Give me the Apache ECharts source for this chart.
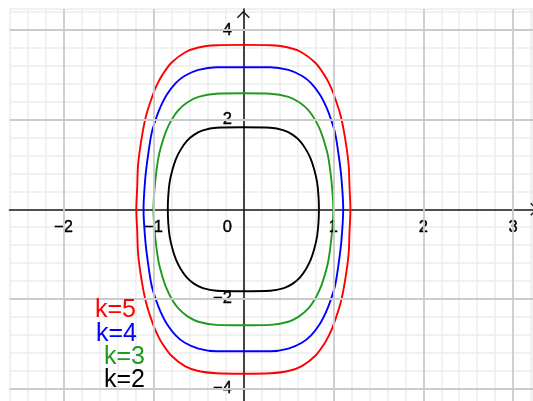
<!DOCTYPE html>
<html>
<head>
<meta charset="utf-8">
<script src="https://cdn.jsdelivr.net/npm/echarts@6/dist/echarts.min.js"></script>
<style>
  html, body { margin: 0; padding: 0; background: #ffffff; }
  #chart { width: 533px; height: 401px; }
</style>
</head>
<body>
<div id="chart"></div>
<script>
// Level curves, one closed loop per k, as [x, y] points traced around the loop.
const curveK5 = [
  [0, 3.67], [0.3, 3.66], [0.5, 3.61], [0.65, 3.50], [0.8, 3.27], [0.9, 3.00], [0.95, 2.82], [1.0, 2.59],
  [1.08, 2.10], [1.13, 1.60], [1.17, 1.00], [1.18, 0.50], [1.19, 0],
  [1.18, -0.50], [1.17, -1.00], [1.13, -1.60], [1.08, -2.10], [1.0, -2.59], [0.95, -2.82], [0.9, -3.00],
  [0.8, -3.27], [0.65, -3.50], [0.5, -3.61], [0.3, -3.66], [0, -3.67],
  [-0.3, -3.66], [-0.5, -3.61], [-0.65, -3.50], [-0.8, -3.27], [-0.9, -3.00], [-0.95, -2.82], [-1.0, -2.59],
  [-1.08, -2.10], [-1.13, -1.60], [-1.17, -1.00], [-1.18, -0.50], [-1.19, 0],
  [-1.18, 0.50], [-1.17, 1.00], [-1.13, 1.60], [-1.08, 2.10], [-1.0, 2.59], [-0.95, 2.82], [-0.9, 3.00],
  [-0.8, 3.27], [-0.65, 3.50], [-0.5, 3.61], [-0.3, 3.66], [0, 3.67]
];
const curveK4 = [
  [0, 3.17], [0.3, 3.17], [0.5, 3.11], [0.65, 2.98], [0.75, 2.82], [0.85, 2.56], [0.92, 2.29], [0.97, 2.03],
  [1.02, 1.70], [1.06, 1.20], [1.09, 0.70], [1.11, 0],
  [1.09, -0.70], [1.06, -1.20], [1.02, -1.70], [0.97, -2.03], [0.92, -2.29], [0.85, -2.56], [0.75, -2.82],
  [0.65, -2.98], [0.5, -3.11], [0.3, -3.17], [0, -3.17],
  [-0.3, -3.17], [-0.5, -3.11], [-0.65, -2.98], [-0.75, -2.82], [-0.85, -2.56], [-0.92, -2.29], [-0.97, -2.03],
  [-1.02, -1.70], [-1.06, -1.20], [-1.09, -0.70], [-1.11, 0],
  [-1.09, 0.70], [-1.06, 1.20], [-1.02, 1.70], [-0.97, 2.03], [-0.92, 2.29], [-0.85, 2.56], [-0.75, 2.82],
  [-0.65, 2.98], [-0.5, 3.11], [-0.3, 3.17], [0, 3.17]
];
const curveK3 = [
  [0, 2.59], [0.3, 2.58], [0.5, 2.51], [0.62, 2.39], [0.72, 2.22], [0.80, 1.99], [0.86, 1.74], [0.90, 1.50],
  [0.94, 1.20], [0.97, 0.80], [0.99, 0.40], [1.0, 0],
  [0.99, -0.40], [0.97, -0.80], [0.94, -1.20], [0.90, -1.50], [0.86, -1.74], [0.80, -1.99], [0.72, -2.22],
  [0.62, -2.39], [0.5, -2.51], [0.3, -2.58], [0, -2.59],
  [-0.3, -2.58], [-0.5, -2.51], [-0.62, -2.39], [-0.72, -2.22], [-0.80, -1.99], [-0.86, -1.74], [-0.90, -1.50],
  [-0.94, -1.20], [-0.97, -0.80], [-0.99, -0.40], [-1.0, 0],
  [-0.99, 0.40], [-0.97, 0.80], [-0.94, 1.20], [-0.90, 1.50], [-0.86, 1.74], [-0.80, 1.99], [-0.72, 2.22],
  [-0.62, 2.39], [-0.5, 2.51], [-0.3, 2.58], [0, 2.59]
];
const curveK2 = [
  [0, 1.83], [0.3, 1.82], [0.45, 1.76], [0.55, 1.66], [0.63, 1.52], [0.70, 1.32], [0.75, 1.12], [0.79, 0.87],
  [0.82, 0.60], [0.835, 0.30], [0.84, 0],
  [0.835, -0.30], [0.82, -0.60], [0.79, -0.87], [0.75, -1.12], [0.70, -1.32], [0.63, -1.52], [0.55, -1.66],
  [0.45, -1.76], [0.3, -1.82], [0, -1.83],
  [-0.3, -1.82], [-0.45, -1.76], [-0.55, -1.66], [-0.63, -1.52], [-0.70, -1.32], [-0.75, -1.12], [-0.79, -0.87],
  [-0.82, -0.60], [-0.835, -0.30], [-0.84, 0],
  [-0.835, 0.30], [-0.82, 0.60], [-0.79, 0.87], [-0.75, 1.12], [-0.70, 1.32], [-0.63, 1.52], [-0.55, 1.66],
  [-0.45, 1.76], [-0.3, 1.82], [0, 1.83]
];

const seriesNames = ['k=5', 'k=4', 'k=3', 'k=2'];
const seriesColors = ['#ff0000', '#0000ff', '#1e9b1e', '#000000'];
const seriesData = [curveK5, curveK4, curveK3, curveK2];

// Axis tick labels, placed beside the axes that cross at the origin
const xTickValues = [-2, -1, 0, 1, 2, 3];
const xTickTexts = ['\u22122', '\u22121', '0', '1', '2', '3'];
const yTickValues = [-4, -2, 2, 4];
const yTickTexts = ['\u22124', '\u22122', '2', '4'];

// Heavier grid lines at whole units on x and every 2 units on y
const majorX = [-2, -1, 1, 2, 3];
const majorY = [-4, -2, 2, 4];

const FONT = '"Liberation Sans", Arial, sans-serif';
const TICK_FONT_SIZE = 16.5;
const arrowPath = 'path://M0,10 L10,0 L20,10 L18.4,11.6 L10,3.2 L1.6,11.6 Z';

const chart = echarts.init(document.getElementById('chart'), null, { renderer: 'canvas' });

const series = [{
  type: 'line',
  data: [],
  silent: true,
  z: 1,
  markLine: {
    silent: true,
    symbol: ['none', 'none'],
    label: { show: false },
    animation: false,
    lineStyle: { color: '#cbcbcb', width: 1.8, type: 'solid' },
    data: majorX.map(v => ({ xAxis: v })).concat(majorY.map(v => ({ yAxis: v })))
  }
}];

// x tick labels below the x axis; "0" sits left of the y axis
series.push({
  type: 'scatter',
  silent: true,
  symbol: 'circle',
  symbolSize: 1,
  itemStyle: { opacity: 0 },
  z: 4,
  data: xTickValues.map((v, i) => [v, 0, i]),
  label: {
    show: true,
    position: 'bottom',
    distance: 9,
    fontSize: TICK_FONT_SIZE,
    fontFamily: FONT,
    color: '#000000',
    opacity: 1,
    textBorderColor: '#000000',
    textBorderWidth: 0.4,
    formatter: p => (xTickValues[p.data[2]] === 0 ? '{z|' + xTickTexts[p.data[2]] + '}' : xTickTexts[p.data[2]]),
    rich: {
      z: {
        fontSize: TICK_FONT_SIZE, fontFamily: FONT, color: '#000000',
        textBorderColor: '#000000', textBorderWidth: 0.4, padding: [0, 32, 0, 0]
      }
    }
  }
});

// y tick labels left of the y axis
series.push({
  type: 'scatter',
  silent: true,
  symbol: 'circle',
  symbolSize: 1,
  itemStyle: { opacity: 0 },
  z: 4,
  data: yTickValues.map((v, i) => [0, v, i]),
  label: {
    show: true,
    position: 'left',
    distance: 11,
    fontSize: TICK_FONT_SIZE,
    fontFamily: FONT,
    color: '#000000',
    opacity: 1,
    textBorderColor: '#000000',
    textBorderWidth: 0.4,
    formatter: p => yTickTexts[p.data[2]]
  }
});

seriesData.forEach((d, i) => {
  series.push({
    name: seriesNames[i],
    type: 'line',
    data: d,
    z: 3,
    smooth: 0.3,
    showSymbol: false,
    symbol: 'none',
    silent: true,
    lineStyle: { color: seriesColors[i], width: 1.9 }
  });
});

const labelGraphics = [
  { text: seriesNames[0], x: 95, y: 310 },
  { text: seriesNames[1], x: 96, y: 334 },
  { text: seriesNames[2], x: 104, y: 357 },
  { text: seriesNames[3], x: 104, y: 380 }
].map((g, i) => ({
  type: 'text',
  x: g.x,
  y: g.y,
  z: 10,
  style: {
    text: g.text,
    fill: seriesColors[i],
    font: '25px ' + FONT,
    textAlign: 'left',
    textVerticalAlign: 'middle',
    verticalAlign: 'middle'
  }
}));

chart.setOption({
  animation: false,
  backgroundColor: '#ffffff',
  grid: { left: 9.5, right: 0, top: 9, bottom: -5.4, containLabel: false, outerBoundsMode: 'none' },
  xAxis: {
    type: 'value',
    min: -2.6,
    max: 3.22,
    interval: 0.2,
    axisLine: {
      onZero: true,
      lineStyle: { color: '#1a1a1a', width: 1.6 },
      symbol: ['none', arrowPath],
      symbolSize: [13, 7.5],
      symbolOffset: [0, 1]
    },
    axisTick: { show: false },
    axisLabel: { show: false },
    splitLine: { show: true, lineStyle: { color: '#ececec', width: 1.5 } }
  },
  yAxis: {
    type: 'value',
    min: -4.4,
    max: 4.47,
    interval: 0.4,
    axisLine: {
      onZero: true,
      lineStyle: { color: '#1a1a1a', width: 1.6 },
      symbol: ['none', arrowPath],
      symbolSize: [13, 7.5],
      symbolOffset: [0, -5.5]
    },
    axisTick: { show: false },
    axisLabel: { show: false },
    splitLine: { show: true, lineStyle: { color: '#ececec', width: 1.5 } }
  },
  series: series,
  graphic: labelGraphics
});
</script>
</body>
</html>
